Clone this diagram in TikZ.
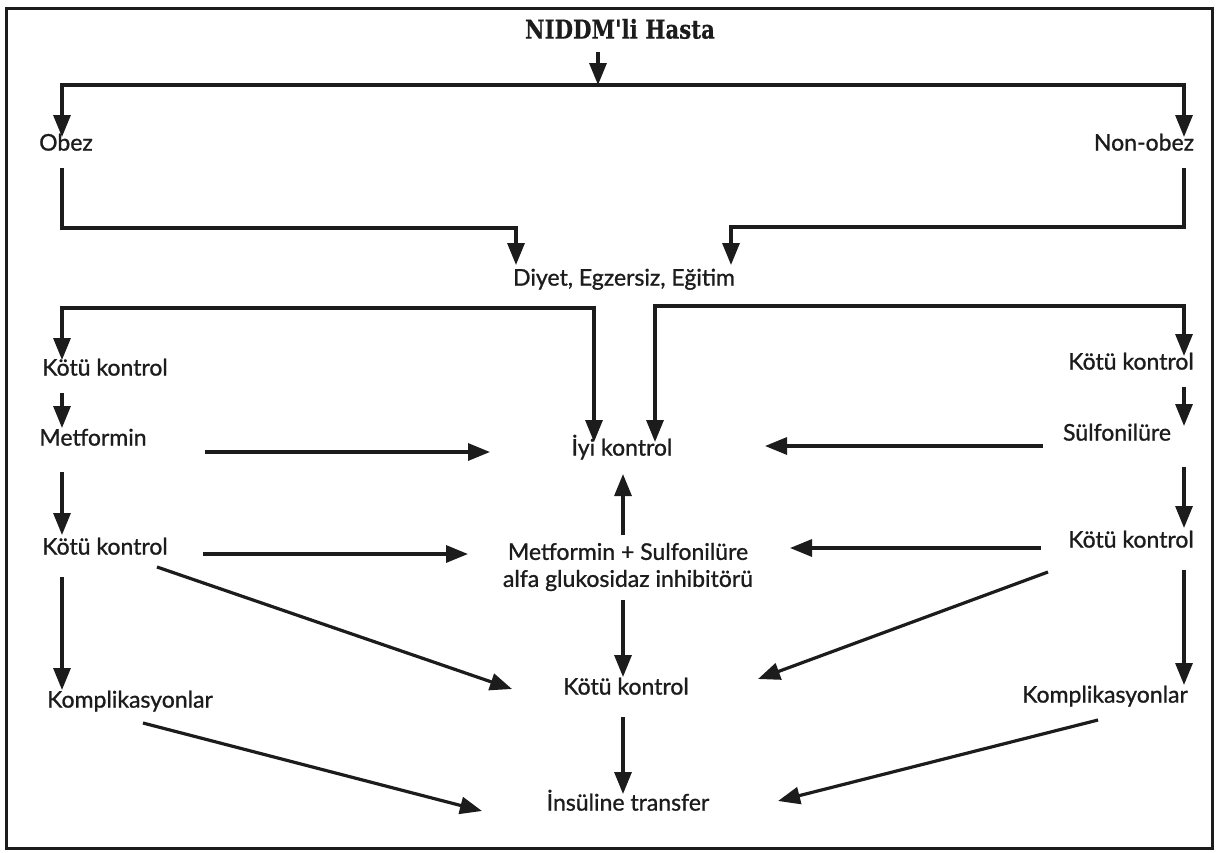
\documentclass[tikz,border=0pt]{standalone}
\usepackage{fontspec}
\usepackage{graphicx}
\usetikzlibrary{arrows.meta,calc}
\newfontfamily\labfont{Lato}[FakeBold=1.0]
\newfontfamily\hdrfont{DejaVu Serif}[FakeBold=0.6]
\definecolor{ink}{HTML}{1C1C1C}
\begin{document}
\begin{tikzpicture}[x=1pt,y=-1pt,
  labbase/.style={font=\labfont\fontsize{23}{27}\selectfont, text=ink, inner sep=0pt,
    anchor=center, align=center},
  lab/.style={labbase, text height=0.72em, text depth=0.2em},
  hdr/.style={font=\hdrfont\bfseries\fontsize{26}{30}\selectfont, text=ink, inner sep=0pt,
    text height=0.72em, text depth=0.2em, anchor=center},
  ln/.style={draw=ink, line width=3.2pt, line join=miter},
  tip/.tip={Triangle[length=22pt,width=17pt]},
  arr/.style={ln, -tip},
  arrb/.style={ln, tip-tip},
  frame/.style={draw=ink, line width=3pt}]
\useasboundingbox (0,0) rectangle (1218,852);
\fill[white] (0,0) rectangle (1218,852);
\draw[frame] (6,8) rectangle (1212,848);

% nodes
\node[hdr] (hasta) at (620,36) {\scalebox{0.82}[1]{NIDDM'li Hasta}};
\node[lab] (obez) at (66,148) {Obez};
\node[lab] (nonobez) at (1144,148) {Non-obez};
\node[lab] (diyet) at (624,283) {Diyet, Egzersiz, Eğitim};
\node[lab] (kk1) at (105,373) {Kötü kontrol};
\node[lab] (met) at (93,443) {Metformin};
\node[lab] (iyi) at (622,453) {İyi kontrol};
\node[lab] (kkR1) at (1131,367) {Kötü kontrol};
\node[lab] (sulf) at (1117,438) {Sülfonilüre};
\node[lab] (kk2) at (105,552) {Kötü kontrol};
\node[labbase] (msa) at (628,567) {Metformin + Sulfonilüre\\alfa glukosidaz inhibitörü};
\node[lab] (kkR2) at (1131,545) {Kötü kontrol};
\node[lab] (kkM) at (626,692) {Kötü kontrol};
\node[lab] (kompL) at (130,705) {Komplikasyonlar};
\node[lab] (kompR) at (1105,700) {Komplikasyonlar};
\node[lab] (ins) at (628,808) {İnsüline transfer};

% helper coordinates
\coordinate (sp) at (598,85);
\coordinate (d1) at (516,228);
\coordinate (d2) at (731,227);
\coordinate (b1) at (594,308);
\coordinate (b3) at (655,306);

% connectors
\draw[arr] ($(hasta)+(-22,16)$) -- (sp);
\draw[arr] (sp) -| ($(obez)+(-4,-11)$);
\draw[arr] (sp) -| ($(nonobez)+(40,-11)$);
\draw[arr] ($(obez)+(-4,20)$) |- (d1) -- (d1 |- {$(diyet)+(0,-18)$});
\draw[arr] ($(nonobez)+(40,20)$) |- (d2) -- (d2 |- {$(diyet)+(0,-18)$});
\draw[arrb] ($(kk1)+(-43,-13)$) |- (b1) -- (b1 |- {$(iyi)+(0,-11)$});
\draw[arrb] (b3 |- {$(iyi)+(0,-11)$}) -- (b3) -| ($(kkR1)+(53,-11)$);
\draw[arr] ($(kk1)+(-43,20)$) -- ($(met)+(-31,-15)$);
\draw[arr] ($(met)+(112,9)$) -- ($(iyi)+(-132,-1)$);
\draw[arr] ($(kkR1)+(53,20)$) -- ($(sulf)+(67,-12)$);
\draw[arr] ($(sulf)+(-74,8)$) -- ($(iyi)+(143,-7)$);
\draw[arr] ($(met)+(-31,29)$) -- ($(kk2)+(-43,-17)$);
\draw[arr] ($(kk2)+(98,2)$) -- ($(msa)+(-160,-13)$);
\draw[arr] ($(msa)+(-5,-32)$) -- ($(iyi)+(1,21)$);
\draw[arr] ($(sulf)+(67,29)$) -- ($(kkR2)+(53,-17)$);
\draw[arr] ($(kkR2)+(-90,3)$) -- ($(msa)+(162,-19)$);
\draw[arr] ($(msa)+(-5,33)$) -- ($(kkM)+(-3,-15)$);
\draw[arr] ($(kk2)+(52,15)$) -- ($(kkM)+(-114,-3)$);
\draw[arr] ($(kkR2)+(-83,27)$) -- ($(kkM)+(132,-13)$);
\draw[arr] ($(kk2)+(-43,25)$) -- ($(kompL)+(-68,-15)$);
\draw[arr] ($(kkR2)+(53,25)$) -- ($(kompR)+(79,-15)$);
\draw[arr] ($(kkM)+(-3,25)$) -- ($(ins)+(-5,-14)$);
\draw[arr] ($(kompL)+(13,18)$) -- ($(ins)+(-146,3)$);
\draw[arr] ($(kompR)+(-7,20)$) -- ($(ins)+(150,-7)$);
\end{tikzpicture}
\end{document}
